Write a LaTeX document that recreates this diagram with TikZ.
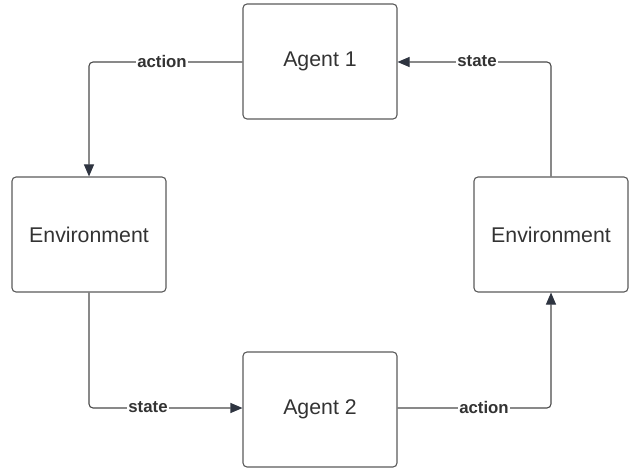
\documentclass[tikz,border=0pt]{standalone}
\usepackage{fontspec}
\setmainfont{Liberation Sans}
\usetikzlibrary{arrows.meta}
\definecolor{boxline}{HTML}{5A5A5A}
\definecolor{conn}{HTML}{4A4A4A}
\definecolor{tip}{HTML}{2E3440}
\definecolor{txt}{HTML}{333333}
\begin{document}
\begin{tikzpicture}[x=1pt,y=-1pt,
  box/.style={draw=boxline, line width=1.1pt, rounded corners=4pt, minimum width=154pt, minimum height=115pt, inner sep=0pt, font=\fontsize{21.3}{24}\selectfont, text=txt},
  conn/.style={draw=conn, line width=1.1pt, rounded corners=4pt, -{Triangle[length=12pt,width=10pt,fill=tip,color=tip]}},
  lbl/.style={fill=white, inner sep=1pt, font=\bfseries\fontsize{16.8}{19}\selectfont, text=txt}]
\useasboundingbox (0,0) rectangle (638,468);
\node[box] (a1) at (320,61.5) {Agent 1};
\node[box] (a2) at (320,409.5) {Agent 2};
\node[box] (el) at (89,234.5) {Environment};
\node[box] (er) at (551,234.5) {Environment};
\draw[conn] (a1.west |- 0,62) -- (89,62) -- (el.north);
\node[lbl] (l1) at (162,61) {action};
\draw[conn] (er.north) -- (551,62) -- (a1.east |- 0,62);
\node[lbl] (l2) at (477,61) {state};
\draw[conn] (el.south) -- (89,408) -- (a2.west |- 0,408);
\node[lbl] (l3) at (148,407) {state};
\draw[conn] (a2.east |- 0,408) -- (551,408) -- (er.south);
\node[lbl] (l4) at (484,407) {action};
\end{tikzpicture}
\end{document}
